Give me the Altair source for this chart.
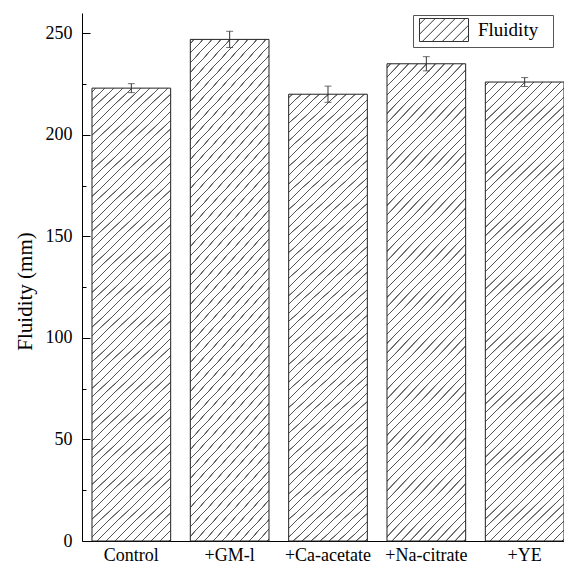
import altair as alt
import pandas as pd

# ---- data ----
categories = ["Control", "+GM-l", "+Ca-acetate", "+Na-citrate", "+YE"]
fluidity = [223, 247, 220, 235, 226]
errors = [2.2, 4.0, 4.0, 3.5, 2.2]
series_name = "Fluidity"
y_major = [0, 50, 100, 150, 200, 250]
y_minor = [0, 25, 50, 75, 100, 125, 150, 175, 200, 225, 250]

df = pd.DataFrame({
    "cat": categories,
    "val": fluidity,
    "err": errors,
    "series": [series_name] * len(categories),
})

# ---- layout constants ----
PW, PH = 482, 528
FONT = "Liberation Serif, Times New Roman, Times, DejaVu Serif, serif"

# ---- hatch fill for the bars (linear gradient with hard stripes) ----
W_BAR, H_REF, PERIOD = 78.7, 467.0, 9.0
L = W_BAR + H_REF
den = W_BAR ** 2 + H_REF ** 2
gx, gy = L * W_BAR / den, L * H_REF / den
stops = []
pos = 3.0
while pos + 1.6 < L:
    a = pos / L
    stops += [
        alt.GradientStop(offset=round(a, 6), color="#ffffff"),
        alt.GradientStop(offset=round(a + 0.25 / L, 6), color="#555555"),
        alt.GradientStop(offset=round(a + 1.15 / L, 6), color="#555555"),
        alt.GradientStop(offset=round(a + 1.4 / L, 6), color="#ffffff"),
    ]
    pos += PERIOD
hatch = alt.LinearGradient(gradient="linear", stops=stops, x1=0, y1=0, x2=round(gx, 5), y2=round(gy, 5))

# ---- hatched legend swatch as a custom symbol path ----
U = 11.5  # px per unit for symbol size 529
shift = 3 / U
xl, xr = -1.0 + shift, -1.0 + shift + 49 / U
parts = ["M-1,0"]  # bounds anchor (left)
parts.append(f"M{xl:.3f},-1H{xr:.3f}V1H{xl:.3f}Z")
b = xl - 2.0 + 0.5
while b < xr:
    s0 = max(0.0, (xl - b) / 2)
    s1 = min(1.0, (xr - b) / 2)
    if s1 > s0:
        parts.append(f"M{b + 2 * s0:.3f},{1 - 2 * s0:.3f}L{b + 2 * s1:.3f},{1 - 2 * s1:.3f}")
    b += 10 / U
parts.append("M10.43,0")  # bounds anchor (right), widens the legend frame
swatch = "".join(parts)

yscale = alt.Scale(domain=[0, 260], nice=False, zero=True)
xenc = alt.X(
    "cat:N",
    sort=categories,
    scale=alt.Scale(paddingInner=0.2, paddingOuter=0.0508, align=1),
    axis=alt.Axis(
        title="", ticks=False, labelAngle=0, labelFontSize=18, labelPadding=5,
        labelColor="black", domainColor="black", labelFont=FONT, labelLimit=200,
    ),
)

base = alt.Chart(df)

bars = base.mark_bar(fill=hatch, stroke="#222222", strokeWidth=1).encode(
    y=alt.Y(
        "val:Q",
        scale=yscale,
        axis=alt.Axis(
            values=y_major, ticks=False, labelFontSize=18, labelPadding=10,
            labelColor="black", domainColor="black", grid=False,
            title="Fluidity (mm)", titleFontSize=21, titleFontWeight="normal",
            titleFont=FONT, labelFont=FONT, titleColor="black",
            titleX=-57, titleY=278, titleBaseline="middle", titleAngle=270,
        ),
    )
)

err = base.transform_calculate(
    lo="datum.val - datum.err", hi="datum.val + datum.err"
).mark_rule(color="#333333", strokeWidth=1).encode(
    y=alt.Y(
        "lo:Q",
        scale=yscale,
        axis=alt.Axis(
            orient="right", offset=-PW, values=y_minor, labels=False, domain=False,
            grid=False, title="", tickColor="black", tickWidth=1,
            tickSize={"condition": {"test": "datum.value % 50 === 0", "value": 8}, "value": 4},
        ),
    ),
    y2="hi:Q",
)

caps = base.transform_calculate(
    lo="datum.val - datum.err", hi="datum.val + datum.err"
).transform_fold(["lo", "hi"], as_=["end", "yv"]).mark_tick(
    color="#333333", thickness=1, size=7
).encode(y=alt.Y("yv:Q", scale=yscale, axis=None))

legend_carrier = base.mark_point(
    filled=False, color="#333333", strokeWidth=1, size=0
).encode(
    y=alt.Y("val:Q", scale=yscale, axis=None),
    shape=alt.Shape(
        "series:N",
        scale=alt.Scale(domain=[series_name], range=[swatch]),
        legend=alt.Legend(
            title="", orient="none", legendX=331, legendY=2, padding=3,
            strokeColor="#555555", fillColor="white",
            symbolSize=529, symbolOpacity=1, symbolFillColor="white",
            symbolStrokeColor="#333333", symbolStrokeWidth=1,
            labelFont=FONT, labelFontSize=19, labelColor="black",
            labelOffset=38,
        ),
    ),
)

chart = alt.layer(bars, err, caps, legend_carrier).encode(x=xenc).resolve_axis(
    y="independent"
).properties(
    width=PW, height=PH,
    autosize=alt.AutoSizeParams(type="none"),
    padding={"left": 82, "top": 13, "right": 0, "bottom": 25},
).configure(font=FONT).configure_view(stroke=None)

chart.save("out.html", embed_options={"renderer": "svg", "actions": False})
